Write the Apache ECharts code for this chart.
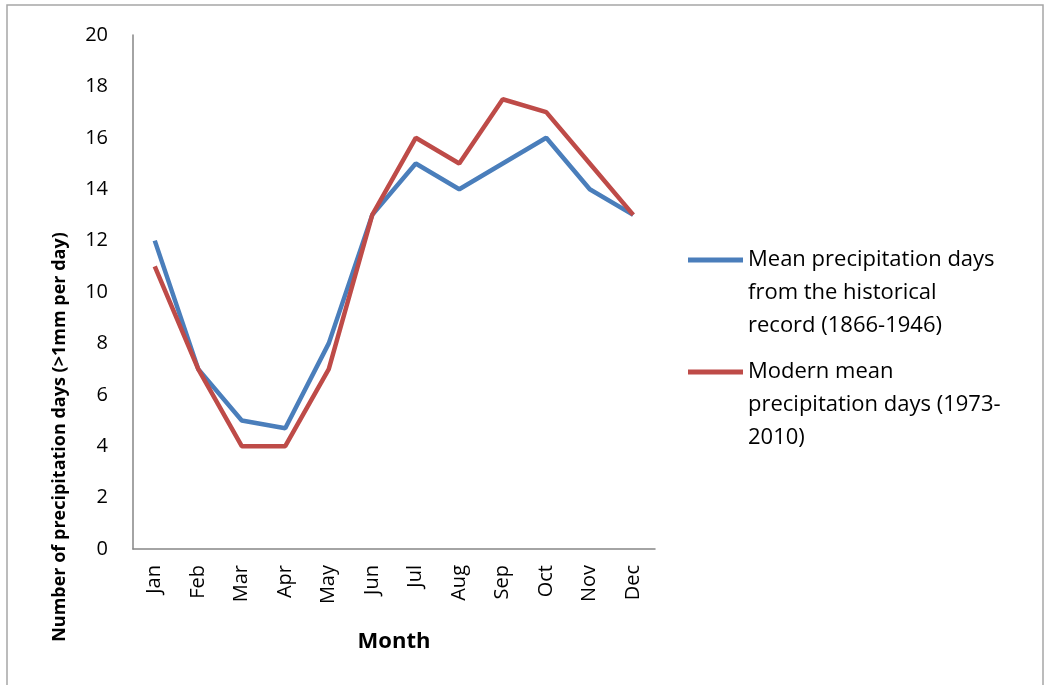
<!DOCTYPE html>
<html>
<head>
<meta charset="utf-8">
<script src="https://cdn.jsdelivr.net/npm/echarts@6/dist/echarts.min.js"></script>
<style>
html,body{margin:0;padding:0;background:#fff;}
#c{width:1044px;height:685px;}
</style>
</head>
<body>
<div id="c"></div>
<script>
const months = ['Jan','Feb','Mar','Apr','May','Jun','Jul','Aug','Sep','Oct','Nov','Dec'];
const historical = [12, 7, 5, 4.7, 8, 13, 15, 14, 15, 16, 14, 13];
const modern = [11, 7, 4, 4, 7, 13, 16, 15, 17.5, 17, 15, 13];
const histName = 'Mean precipitation days from the historical record (1866-1946)';
const modName = 'Modern mean precipitation days (1973-2010)';
const histLabel = 'Mean precipitation days\nfrom the historical\nrecord (1866-1946)';
const modLabel = 'Modern mean\nprecipitation days (1973-\n2010)';

const FONT = 'Open Sans';
const chart = echarts.init(document.getElementById('c'));
const legendText = {
  fontFamily: FONT, fontSize: 22, color: '#000', lineHeight: 33
};
function mkLegend(name, label, top) {
  return {
    data: [name], left: 688, top: top, padding: 0,
    itemWidth: 55, itemHeight: 10, itemGap: 0,
    icon: 'path://M0,0 L55,0 L55,5 L0,5 Z',
    formatter: () => '\n\n' + label,
    textStyle: legendText,
    selectedMode: false
  };
}
chart.setOption({
  animation: false,
  backgroundColor: '#fff',
  graphic: [{
    type: 'rect', shape: {x: 7, y: 5, width: 1036, height: 690},
    style: {fill: 'none', stroke: '#a6a6a6', lineWidth: 1.5}, silent: true
  }],
  legend: [mkLegend(histName, histLabel, 260 - 82.5), mkLegend(modName, modLabel, 372 - 82.5)],
  grid: {left: 133, right: 389, top: 35, bottom: 136, containLabel: false},
  xAxis: {
    type: 'category', data: months, boundaryGap: true,
    name: 'Month', nameLocation: 'middle', nameGap: 82,
    nameTextStyle: {fontFamily: FONT, fontWeight: 'bold', fontSize: 22, color: '#000'},
    axisLine: {lineStyle: {color: '#868686', width: 1.5}},
    axisTick: {show: false},
    axisLabel: {rotate: 90, margin: 16, fontFamily: FONT, fontSize: 20, color: '#000', interval: 0}
  },
  yAxis: {
    type: 'value', min: 0, max: 20, interval: 2,
    name: 'Number of precipitation days (>1mm per day)', nameLocation: 'middle', nameGap: 64,
    nameTextStyle: {fontFamily: FONT, fontWeight: 'bold', fontSize: 18, color: '#000', padding: [0, 290, 0, 0]},
    axisLine: {show: true, lineStyle: {color: '#868686', width: 1.5}},
    axisTick: {show: false},
    splitLine: {show: false},
    axisLabel: {margin: 25, fontFamily: FONT, fontSize: 20, color: '#000'}
  },
  series: [
    {name: histName, type: 'line', data: historical, symbol: 'none',
     lineStyle: {color: '#4A7EBB', width: 4.5}, itemStyle: {color: '#4A7EBB'}},
    {name: modName, type: 'line', data: modern, symbol: 'none',
     lineStyle: {color: '#BE4B48', width: 4.5}, itemStyle: {color: '#BE4B48'}}
  ]
});
</script>
</body>
</html>
